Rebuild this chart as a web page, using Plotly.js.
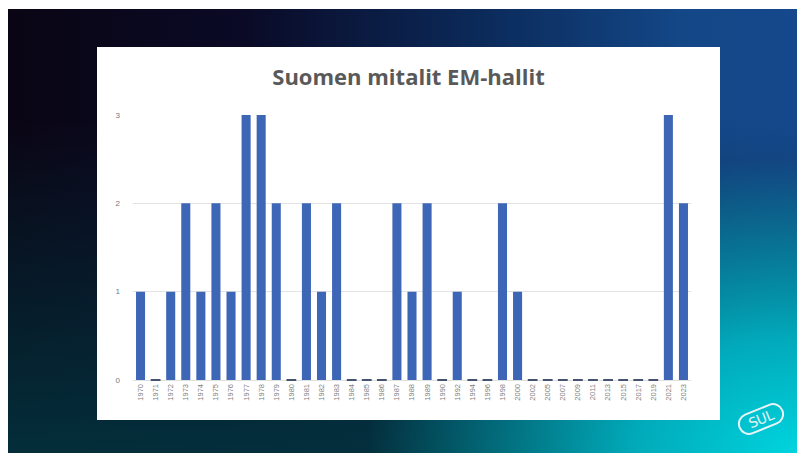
<!DOCTYPE html>
<html>
<head>
<meta charset="utf-8">
<script src="https://cdn.plot.ly/plotly-3.0.1.min.js"></script>
<style>
html,body{margin:0;padding:0;background:#ffffff;width:797px;height:453px;overflow:hidden;}
#slide{position:absolute;left:8px;top:9px;width:789px;height:444px;
background:
 radial-gradient(ellipse 70% 85% at 100% 100%, rgba(0,212,222,1) 0%, rgba(0,190,205,0.85) 30%, rgba(0,150,180,0) 78%),
 linear-gradient(to bottom, rgba(2,40,52,0) 25%, rgba(3,48,60,0.95) 100%),
 linear-gradient(to right, #0a0514 0%, #0a0a26 30%, #0b2a5a 60%, #134786 85%, #15488c 100%);}
#chart{position:absolute;left:97px;top:47px;width:623px;height:373px;}
#logo{position:absolute;left:737px;top:408px;width:44px;height:18px;border:2px solid #e8f4f6;border-radius:11px;
transform:rotate(-22deg);color:#e8f4f6;font-family:"DejaVu Sans",sans-serif;font-size:14px;line-height:18px;text-align:center;letter-spacing:-0.5px;}
</style>
</head>
<body>
<div id="slide"></div>
<div id="chart"></div>
<div id="logo">SUL</div>
<script>
const years = ["1970","1971","1972","1973","1974","1975","1976","1977","1978","1979","1980","1981","1982","1983","1984","1985","1986","1987","1988","1989","1990","1992","1994","1996","1998","2000","2002","2005","2007","2009","2011","2013","2015","2017","2019","2021","2023"];
const medals = [1,0,1,2,1,2,1,3,3,2,0,2,1,2,0,0,0,2,1,2,0,1,0,0,2,1,0,0,0,0,0,0,0,0,0,3,2];
const yTicks = [0,1,2,3];

const zeroYears = years.filter((y,i)=>medals[i]===0);
const zeroVals = medals.filter(v=>v===0);

const traces = [
 {type:"bar", x:years, y:medals, marker:{color:"#3d66b6"}, hoverinfo:"x+y"},
 {type:"scatter", mode:"markers", x:zeroYears, y:zeroVals, cliponaxis:false,
  marker:{symbol:"line-ew-open", size:7, color:"#46536f", line:{color:"#46536f", width:2}}, hoverinfo:"skip"}
];
const layout = {
 width:623, height:373,
 margin:{l:36, r:29, t:67, b:40},
 paper_bgcolor:"#ffffff", plot_bgcolor:"#ffffff",
 showlegend:false, bargap:0.4,
 title:{text:"Suomen mitalit EM-hallit", font:{family:"Open Sans, sans-serif", size:22, color:"#595959", weight:700}, x:0.5, xanchor:"center", y:0.92, yanchor:"middle"},
 xaxis:{type:"category", range:[-0.5, years.length-0.5], tickangle:-90, tickfont:{family:"Liberation Sans, sans-serif", size:7.5, color:"#808080"},
   showgrid:false, showline:true, linecolor:"#e0e0e0", linewidth:1, ticks:"", layer:"below traces", automargin:false},
 yaxis:{range:[0,3.01], tickvals:yTicks, ticktext:yTicks.map(String), tickfont:{family:"Liberation Sans, sans-serif", size:8, color:"#777777"},
   showgrid:true, gridcolor:"#e3e3e3", gridwidth:1, zeroline:false, showline:false, ticks:"", ticklabelstandoff:12, layer:"below traces", automargin:false}
};
Plotly.newPlot("chart", traces, layout, {displayModeBar:false, staticPlot:true});
</script>
</body>
</html>
